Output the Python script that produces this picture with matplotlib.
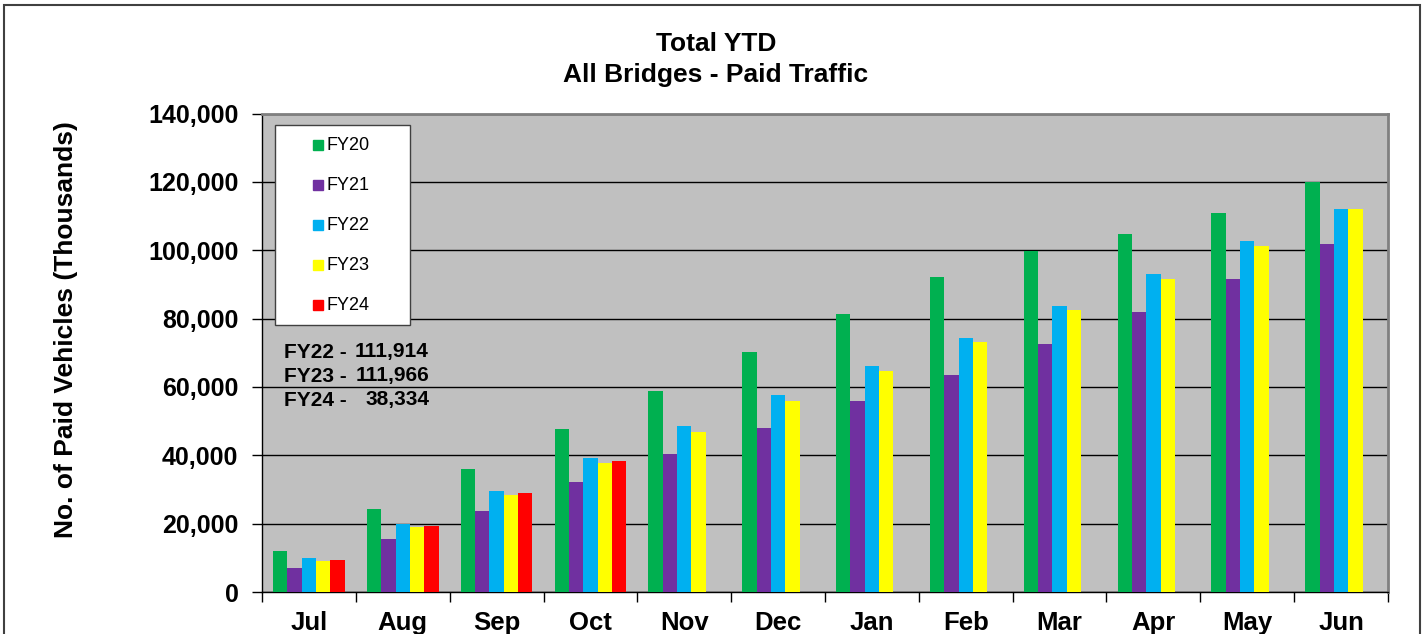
import numpy as np
import matplotlib
matplotlib.use('Agg')
import matplotlib.pyplot as plt
from matplotlib.patches import Rectangle
from matplotlib.ticker import FuncFormatter, MultipleLocator

plt.rcParams['font.family'] = ['Liberation Sans', 'DejaVu Sans']

months = ['Jul', 'Aug', 'Sep', 'Oct', 'Nov', 'Dec', 'Jan', 'Feb', 'Mar', 'Apr', 'May', 'Jun']
series_names = ['FY20', 'FY21', 'FY22', 'FY23', 'FY24']
fy20 = [12000, 24300, 35900, 47800, 58900, 70100, 81300, 92100, 99900, 104600, 110900, 120100]
fy21 = [7100, 15500, 23700, 32300, 40300, 48100, 56000, 63600, 72700, 81900, 91500, 101900]
fy22 = [9900, 19900, 29500, 39200, 48500, 57600, 66100, 74300, 83800, 93000, 102600, 111914]
fy23 = [9100, 19100, 28300, 37800, 46700, 55800, 64600, 73100, 82400, 91600, 101300, 111966]
fy24 = [9500, 19400, 28900, 38334]
colors = ['#00B050', '#7030A0', '#00B0F0', '#FFFF00', '#FF0000']
totals = [('FY22 -', '111,914'), ('FY23 -', '111,966'), ('FY24 -', '38,334')]

W, H = 1426, 634
fig = plt.figure(figsize=(W / 100, H / 100), dpi=100)

# axes placed in pixel terms
L, R, T, B = 262, 1388, 113.5, 592
ax = fig.add_axes([L / W, 1 - B / H, (R - L) / W, (B - T) / H])
ax.set_facecolor('#C0C0C0')

# outer chart border
fig.patches.append(Rectangle((4 / W, -0.1), 1416 / W, 1.1 - 5 / H, transform=fig.transFigure,
                             fill=False, edgecolor='#404040', lw=1.5))

x = np.arange(len(months)) + 0.5
bw = 0.153
data = [fy20, fy21, fy22, fy23, fy24]
for i, (vals, c) in enumerate(zip(data, colors)):
    xi = x[:len(vals)] + (i - 2) * bw
    ax.bar(xi, vals, width=bw, color=c, edgecolor='none', zorder=3)

ax.set_xlim(0, 12)
ax.set_ylim(0, 140000)
ax.yaxis.set_major_locator(MultipleLocator(20000))
ax.yaxis.set_major_formatter(FuncFormatter(lambda v, p: '{:,.0f}'.format(v)))
ax.grid(axis='y', color='black', lw=1, zorder=1)

ax.set_xticks(np.arange(13))
ax.set_xticklabels([])
ax.set_xticks(x, minor=True)
ax.set_xticklabels(months, minor=True)
ax.tick_params(axis='x', which='major', direction='out', length=7, width=1, color='black')
ax.tick_params(axis='x', which='minor', length=0, pad=14, labelsize=18.5)
ax.tick_params(axis='y', direction='out', length=7, width=1, pad=10, labelsize=18)
for lab in ax.get_xticklabels(minor=True) + ax.get_yticklabels():
    lab.set_fontweight('bold')

for s in ['top', 'right']:
    ax.spines[s].set_color('#808080')
    ax.spines[s].set_linewidth(2)
for s in ['left', 'bottom']:
    ax.spines[s].set_color('black')
    ax.spines[s].set_linewidth(1)

ax.set_ylabel('No. of Paid Vehicles (Thousands)', fontsize=19, fontweight='bold')
ax.yaxis.set_label_coords(-0.163, 0.548)

fig.text(716 / W, 1 - 44 / H, 'Total YTD', ha='center', va='center', fontsize=19, fontweight='bold')
fig.text(716 / W, 1 - 75 / H, 'All Bridges - Paid Traffic', ha='center', va='center',
         fontsize=19, fontweight='bold')

# legend box drawn in axes coordinates
def ax_x(px):
    return (px - L) / (R - L)

def ax_y(py):
    return (B - py) / (B - T)

ax.add_patch(Rectangle((ax_x(275), ax_y(325)), ax_x(410) - ax_x(275), ax_y(125) - ax_y(325),
                       transform=ax.transAxes, facecolor='white', edgecolor='#404040', lw=1, zorder=5))
for i, (name, c) in enumerate(zip(series_names, colors)):
    yy = ax_y(145 + 40 * i)
    ax.plot([ax_x(318)], [yy], marker='s', markersize=7.5, color=c, linestyle='none',
            transform=ax.transAxes, zorder=6, clip_on=False)
    ax.text(ax_x(326), yy, name, transform=ax.transAxes, fontsize=13, va='center', ha='left', zorder=6)

for i, (lbl, num) in enumerate(totals):
    yy = ax_y(352 + 24 * i)
    ax.text(ax_x(284), yy, lbl, transform=ax.transAxes, fontsize=15, fontweight='bold',
            va='center', ha='left', zorder=6)
    ax.text(ax_x(429), yy, num, transform=ax.transAxes, fontsize=15, fontweight='bold',
            va='center', ha='right', zorder=6)

fig.savefig('out.png', dpi=100)
